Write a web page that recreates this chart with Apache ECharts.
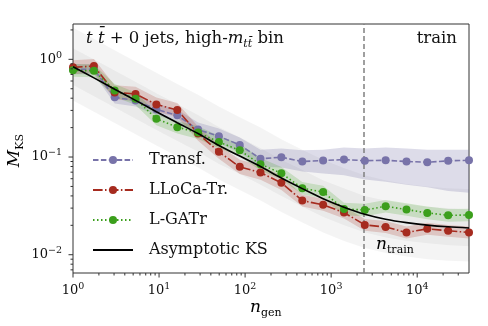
<!DOCTYPE html>
<html>
<head>
<meta charset="utf-8">
<script src="https://cdn.jsdelivr.net/npm/echarts@6/dist/echarts.min.js"></script>
<style>
  html, body { margin: 0; padding: 0; background: #fff; }
  #chart { width: 488px; height: 326px; }
</style>
</head>
<body>
<div id="chart"></div>
<script>
// n_gen sample points
const nGen = [1, 1.75, 3.05, 5.33, 9.31, 16.3, 28.4, 49.6, 86.7, 151, 264, 462, 807, 1410, 2460, 4300, 7510, 13100, 22900, 40000];
const nTrain = 2400;

const transf = [0.79, 0.79, 0.408, 0.38, 0.307, 0.267, 0.191, 0.163, 0.133, 0.096, 0.0995, 0.090, 0.092, 0.0942, 0.0917, 0.0927, 0.090, 0.0885, 0.0914, 0.0927];
const transfHi = [0.889, 0.889, 0.469, 0.437, 0.354, 0.307, 0.226, 0.196, 0.158, 0.119, 0.122, 0.117, 0.119, 0.125, 0.122, 0.125, 0.122, 0.119, 0.119, 0.119];
const transfLo = [0.702, 0.702, 0.354, 0.329, 0.267, 0.231, 0.162, 0.138, 0.111, 0.080, 0.078, 0.071, 0.068, 0.065, 0.059, 0.056, 0.052, 0.049, 0.045, 0.043];

const lloca = [0.828, 0.854, 0.459, 0.443, 0.345, 0.303, 0.174, 0.113, 0.0793, 0.0693, 0.0544, 0.0358, 0.0324, 0.0270, 0.0202, 0.0192, 0.0169, 0.0184, 0.0176, 0.0169];
const llocaHi = [0.977, 1.008, 0.542, 0.523, 0.407, 0.358, 0.205, 0.133, 0.0936, 0.0818, 0.0642, 0.0412, 0.0373, 0.0311, 0.0232, 0.0221, 0.0194, 0.0212, 0.0202, 0.0194];
const llocaLo = [0.702, 0.724, 0.389, 0.375, 0.292, 0.257, 0.147, 0.0958, 0.0672, 0.0587, 0.0461, 0.0311, 0.0282, 0.0235, 0.0176, 0.0167, 0.0147, 0.0160, 0.0153, 0.0147];

const lgatr = [0.771, 0.762, 0.481, 0.394, 0.246, 0.202, 0.178, 0.1425, 0.117, 0.0844, 0.0682, 0.0479, 0.0438, 0.0294, 0.0287, 0.0313, 0.0290, 0.0268, 0.0253, 0.0255];
const lgatrHi = [0.894, 0.884, 0.558, 0.457, 0.285, 0.234, 0.206, 0.165, 0.136, 0.0979, 0.0791, 0.0556, 0.0508, 0.0341, 0.0333, 0.0363, 0.0336, 0.0311, 0.0293, 0.0296];
const lgatrLo = [0.665, 0.657, 0.415, 0.340, 0.212, 0.174, 0.153, 0.123, 0.101, 0.0728, 0.0588, 0.0413, 0.0378, 0.0253, 0.0247, 0.0270, 0.0250, 0.0231, 0.0218, 0.0220];

const ksAsym = [0.841, 0.646, 0.495, 0.380, 0.291, 0.224, 0.174, 0.131, 0.1024, 0.0799, 0.0609, 0.0475, 0.0375, 0.0307, 0.0260, 0.0231, 0.0213, 0.0201, 0.0193, 0.0188];
const ksOuterHi = [2.10, 1.62, 1.24, 0.95, 0.73, 0.56, 0.435, 0.33, 0.256, 0.20, 0.152, 0.119, 0.094, 0.077, 0.065, 0.058, 0.053, 0.050, 0.048, 0.047];
const ksOuterLo = [0.378, 0.291, 0.223, 0.171, 0.131, 0.101, 0.078, 0.059, 0.046, 0.036, 0.0274, 0.0214, 0.0169, 0.0138, 0.0117, 0.0104, 0.0096, 0.0090, 0.0087, 0.0085];
const ksInnerHi = [1.30, 1.00, 0.77, 0.59, 0.45, 0.35, 0.27, 0.203, 0.159, 0.124, 0.094, 0.074, 0.058, 0.048, 0.040, 0.036, 0.033, 0.031, 0.030, 0.029];
const ksInnerLo = [0.547, 0.420, 0.322, 0.247, 0.189, 0.146, 0.113, 0.085, 0.067, 0.052, 0.040, 0.031, 0.0244, 0.020, 0.0169, 0.0150, 0.0138, 0.0131, 0.0125, 0.0122];

const xMin = 1, xMax = 40000;
const yMin = 0.0065, yMax = 2.3;
const xMajor = [1, 10, 100, 1000, 10000];
const yMajor = [0.01, 0.1, 1];

const FONT = 'DejaVu Serif';
const C_TRANSF = '#7873a9';
const C_LLOCA = '#a62b1f';
const C_LGATR = '#3b9f1c';

const minorTicks = (lo, hi) => {
  const out = [];
  for (let d = Math.pow(10, Math.floor(Math.log10(lo))); d < hi; d *= 10) {
    for (let k = 2; k <= 9; k++) {
      const v = k * d;
      if (v > lo && v < hi) out.push(v);
    }
  }
  return out;
};
const xMinor = minorTicks(xMin, xMax);
const yMinor = minorTicks(yMin, yMax);

const pairs = (ys) => nGen.map((n, i) => [n, ys[i]]);

const band = (name, hi, lo, fill, z) => ({
  name,
  type: 'custom',
  z,
  silent: true,
  data: [[nGen[0], hi[0]]],
  renderItem: (params, api) => {
    const top = nGen.map((n, i) => api.coord([n, hi[i]]));
    const bot = nGen.map((n, i) => api.coord([n, lo[i]])).reverse();
    return { type: 'polygon', shape: { points: top.concat(bot) }, style: { fill } };
  },
});

const powLabel = (v) => {
  const lg = Math.log10(v);
  const e = Math.round(lg);
  if (Math.abs(lg - e) > 1e-6) return '';
  return '{b|10}{s|' + (e < 0 ? '\u2212' + (-e) : e) + '}';
};
const labelRich = {
  b: { fontFamily: FONT, fontSize: 13, color: '#111', lineHeight: 18 },
  s: { fontFamily: FONT, fontSize: 9.5, color: '#111', verticalAlign: 'top', lineHeight: 11 },
};

const lineSeries = (name, ys, color, dash) => ({
  name,
  type: 'line',
  z: 5,
  data: pairs(ys),
  symbol: 'circle',
  symbolSize: 8,
  itemStyle: { color },
  lineStyle: { color, width: 1.6, type: dash },
});

const subText = (main, sub) => ({
  text: '{i|' + main + '}{sub|' + sub + '}',
  rich: {
    i: { fontFamily: FONT, fontStyle: 'italic', fontSize: 17, lineHeight: 22, color: '#111' },
    sub: { fontFamily: FONT, fontSize: 11, verticalAlign: 'bottom', lineHeight: 12, color: '#111' },
  },
});

const option = {
  animation: false,
  grid: {
    left: 73, right: 19, top: 24, bottom: 53,
    show: true, borderColor: '#333', borderWidth: 1, backgroundColor: 'transparent',
  },
  xAxis: {
    type: 'log', min: xMin, max: xMax,
    axisLine: { show: false }, axisTick: { show: false }, splitLine: { show: false },
    axisLabel: { margin: 9, formatter: powLabel, rich: labelRich },
  },
  yAxis: {
    type: 'log', min: yMin, max: yMax,
    axisLine: { show: false }, axisTick: { show: false }, splitLine: { show: false },
    axisLabel: { margin: 11, formatter: powLabel, rich: labelRich },
  },
  legend: {
    data: [
      'Transf.', 'LLoCa-Tr.', 'L-GATr',
      { name: 'Asymptotic KS', itemStyle: { opacity: 0 } },
    ],
    orient: 'vertical',
    left: 87, top: 146,
    itemWidth: 40, itemHeight: 10, itemGap: 12,
    selectedMode: false,
    textStyle: { fontFamily: FONT, fontSize: 16, color: '#111', lineHeight: 18, padding: [0, 0, 0, 11] },
  },
  graphic: [
    {
      type: 'text', left: 86, top: 30, z: 20,
      style: {
        text: '{i|t t\u0304} + 0 jets, high-{i|m}{sub|tt\u0304} bin',
        fontFamily: FONT, fontSize: 16.5, fill: '#111',
        rich: {
          i: { fontFamily: FONT, fontStyle: 'italic', fontSize: 16.5, lineHeight: 22 },
          sub: { fontFamily: FONT, fontStyle: 'italic', fontSize: 11, verticalAlign: 'bottom', lineHeight: 12 },
        },
      },
    },
    {
      type: 'text', right: 31, top: 30, z: 20,
      style: { text: 'train', fontFamily: FONT, fontSize: 16.5, fill: '#111' },
    },
    { type: 'text', left: 376, top: 236, z: 20, style: subText('n', 'train') },
    { type: 'text', left: 250, top: 299, z: 20, style: subText('n', 'gen') },
    { type: 'text', left: 6, top: 134, rotation: Math.PI / 2, z: 20, style: subText('M', 'KS') },
  ],
  series: [
    band('ksOuter', ksOuterHi, ksOuterLo, 'rgba(0,0,0,0.045)', 1),
    band('ksInner', ksInnerHi, ksInnerLo, 'rgba(0,0,0,0.045)', 1),
    band('transfBand', transfHi, transfLo, 'rgba(120,115,169,0.25)', 2),
    band('llocaBand', llocaHi, llocaLo, 'rgba(166,43,31,0.2)', 2),
    band('lgatrBand', lgatrHi, lgatrLo, 'rgba(59,159,28,0.2)', 2),
    lineSeries('Transf.', transf, C_TRANSF, [5.5, 2.4]),
    lineSeries('LLoCa-Tr.', lloca, C_LLOCA, [9.6, 2.4, 1.5, 2.4]),
    lineSeries('L-GATr', lgatr, C_LGATR, [1.5, 2.5]),
    {
      name: 'Asymptotic KS',
      type: 'line',
      z: 6,
      data: pairs(ksAsym),
      smooth: 0.3,
      symbol: 'none',
      itemStyle: { color: '#000' },
      lineStyle: { color: '#000', width: 1.6 },
      markLine: {
        silent: true, symbol: 'none', label: { show: false },
        lineStyle: { color: '#808080', type: [5, 3], width: 1.5 },
        data: [{ xAxis: nTrain }],
      },
    },
    {
      name: 'ticks',
      type: 'custom',
      silent: true,
      z: 10,
      data: [[xMin, yMin]],
      renderItem: (params, api) => {
        const children = [];
        const stroke = { stroke: '#333', lineWidth: 1 };
        const xt = (t, len) => {
          const p = api.coord([t, yMin]);
          children.push({ type: 'line', shape: { x1: p[0], y1: p[1], x2: p[0], y2: p[1] + len }, style: stroke });
        };
        const yt = (t, len) => {
          const p = api.coord([xMin, t]);
          children.push({ type: 'line', shape: { x1: p[0], y1: p[1], x2: p[0] - len, y2: p[1] }, style: stroke });
        };
        xMajor.forEach((t) => xt(t, 4.5));
        xMinor.forEach((t) => xt(t, 2.5));
        yMajor.forEach((t) => yt(t, 4.5));
        yMinor.forEach((t) => yt(t, 2.5));
        return { type: 'group', children };
      },
    },
  ],
};

const myChart = echarts.init(document.getElementById('chart'));
myChart.setOption(option);
</script>
</body>
</html>
